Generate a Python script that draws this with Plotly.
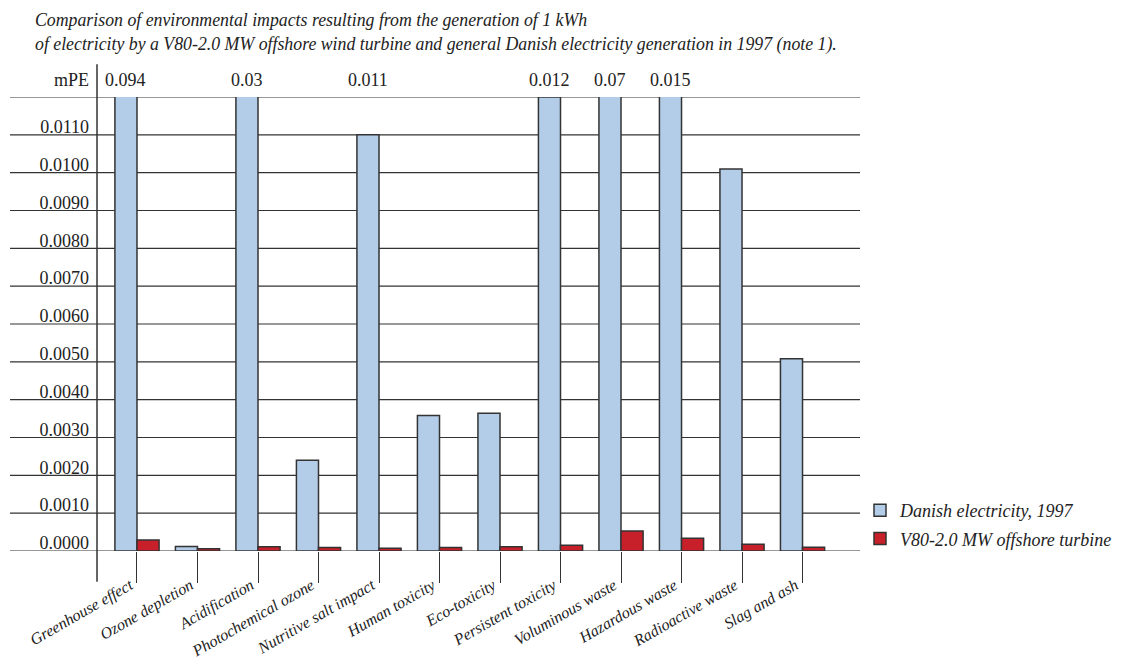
import plotly.graph_objects as go

categories = ["Greenhouse effect", "Ozone depletion", "Acidification", "Photochemical ozone",
              "Nutritive salt impact", "Human toxicity", "Eco-toxicity", "Persistent toxicity",
              "Voluminous waste", "Hazardous waste", "Radioactive waste", "Slag and ash"]
danish = [0.094, 0.00012, 0.03, 0.0024, 0.011, 0.00358, 0.00364, 0.012, 0.07, 0.015, 0.0101, 0.00508]
turbine = [0.00029, 0.00006, 0.00011, 0.00009, 0.00007, 0.00009, 0.00011, 0.00015, 0.00053, 0.00034, 0.00018, 0.0001]
top_label_cats = ["Greenhouse effect", "Acidification", "Nutritive salt impact",
                  "Persistent toxicity", "Voluminous waste", "Hazardous waste"]
top_label_text = ["0.094", "0.03", "0.011", "0.012", "0.07", "0.015"]
ytick_vals = [0.0, 0.001, 0.002, 0.003, 0.004, 0.005, 0.006, 0.007, 0.008, 0.009, 0.010, 0.011]
ytick_text = ["0.0000", "0.0010", "0.0020", "0.0030", "0.0040", "0.0050",
              "0.0060", "0.0070", "0.0080", "0.0090", "0.0100", "0.0110"]
grid_vals = ytick_vals + [0.012]

SERIF = "'Liberation Serif', 'DejaVu Serif', serif"
DARK = "#333333"

fig = go.Figure()
fig.add_trace(go.Bar(x=categories, y=danish, name="Danish electricity, 1997",
                     marker=dict(color="#b3cde9", line=dict(color=DARK, width=1.5)),
                     legendgroup="a"))
fig.add_trace(go.Bar(x=categories, y=turbine, name="V80-2.0 MW offshore turbine",
                     marker=dict(color="#c8202a", line=dict(color=DARK, width=1.5)),
                     legendgroup="b"))

shapes = []
for v in grid_vals:
    shapes.append(dict(type="line", xref="paper", yref="y", x0=-0.114, x1=1.0, y0=v, y1=v,
                       line=dict(color=DARK, width=1.2), layer="below"))
shapes.append(dict(type="line", xref="paper", yref="paper", x0=0, x1=0, y0=-0.068, y1=1.072,
                   line=dict(color=DARK, width=1.5)))

annotations = [dict(text="mPE", xref="paper", yref="paper", x=0, y=1.037, xanchor="right",
                    yanchor="middle", xshift=-6, showarrow=False,
                    font=dict(family=SERIF, size=18, color="#222"))]
for c, t in zip(top_label_cats, top_label_text):
    annotations.append(dict(text=t, xref="x", yref="paper", x=c, y=1.037, xshift=-11,
                            xanchor="center", yanchor="middle", showarrow=False,
                            font=dict(family=SERIF, size=18, color="#222")))

fig.update_layout(
    width=1128, height=660,
    margin=dict(l=97, r=268, t=97, b=109, autoexpand=False),
    paper_bgcolor="white", plot_bgcolor="white",
    barmode="group", bargap=0.27, bargroupgap=0.0,
    title=dict(text="Comparison of environmental impacts resulting from the generation of 1 kWh<br>"
                    "of electricity by a V80-2.0 MW offshore wind turbine and general Danish electricity generation in 1997 (note 1).",
               x=35/1128, xanchor="left", y=0.96, yanchor="top",
               font=dict(family=SERIF, size=17.8, color="#222", style="italic")),
    xaxis=dict(type="category", range=[-0.661, 11.95], showgrid=False, showline=False, zeroline=False,
               automargin=False,
               ticks="outside", ticklen=31, tickwidth=1.2, tickcolor=DARK, tickangle=-30,
               ticklabelstandoff=-13, ticklabelshift=-7,
               tickfont=dict(family=SERIF, size=16, color="#222", style="italic")),
    yaxis=dict(range=[0, 0.012], tickvals=ytick_vals, ticktext=ytick_text, showgrid=False,
               automargin=False,
               zeroline=False, showline=False, ticks="", ticklabelstandoff=7, ticklabelshift=-8,
               tickfont=dict(family=SERIF, size=18, color="#222")),
    shapes=shapes, annotations=annotations,
    legend=dict(x=1.0, xanchor="left", y=0.13, yanchor="top", traceorder="grouped",
                tracegroupgap=2, font=dict(family=SERIF, size=18, color="#222", style="italic"),
                bgcolor="rgba(0,0,0,0)"),
)

fig.write_html("out.html", config={"displayModeBar": False},
               post_script="document.body.style.margin='0px';")
